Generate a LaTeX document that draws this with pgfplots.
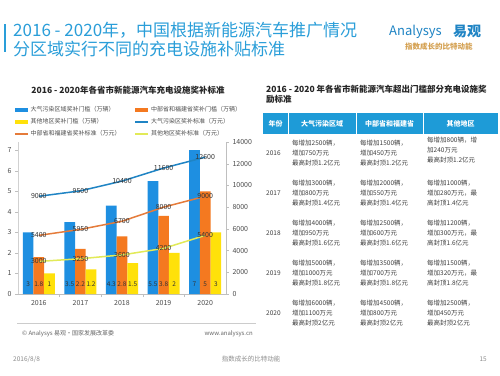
\documentclass[border=0pt]{standalone}
\usepackage{fontspec}
\setmainfont{Noto Sans CJK SC}
\usepackage{pgfplots}
\pgfplotsset{compat=1.18}
\definecolor{barblue}{RGB}{30,143,225}
\definecolor{barorange}{RGB}{244,121,32}
\definecolor{baryellow}{RGB}{255,225,10}
\definecolor{lineblue}{RGB}{31,132,196}
\definecolor{lineorange}{RGB}{229,123,58}
\definecolor{lineyellow}{RGB}{226,234,88}
\definecolor{titleblue}{RGB}{42,158,217}
\definecolor{hdrblue}{RGB}{30,155,215}
\definecolor{logogold}{RGB}{212,160,80}
\newcommand{\fs}[1]{\fontsize{#1}{#1}\selectfont}
\begin{document}
\begin{tikzpicture}
\useasboundingbox (0,0) rectangle (500pt,-375pt);
\fill[white] (0,0) rectangle (500pt,-375pt);
\begin{scope}[x=1pt,y=-1pt]
% main title
\fill[titleblue] (4,24) rectangle (6,52);
\node[anchor=west,inner sep=0,text=titleblue,font=\fs{17}] at (13,30) {2016 - 2020年，中国根据新能源汽车推广情况};
\node[anchor=west,inner sep=0,text=titleblue,font=\fs{17}] at (13,49) {分区域实行不同的充电设施补贴标准};
% logo
\node[anchor=west,inner sep=0,text=lineblue,font=\fs{13}\itshape] at (389,32) {Analysys};
\node[anchor=west,inner sep=0,text=lineblue,font=\fs{14}\bfseries] at (453,32) {易观};
\node[anchor=west,inner sep=0,text=logogold,font=\fs{7.5}\bfseries] at (405,47) {指数成长的比特动能};
% chart title
\node[inner sep=0,text=black!85,font=\fs{8.5}\bfseries] at (128,90) {2016 - 2020年各省市新能源汽车充电设施奖补标准};
% source
\draw[black!20,line width=0.6] (17,323) -- (256,323);
\node[anchor=west,inner sep=0,text=black!60,font=\fs{6}] at (22,334) {© Analysys 易观·国家发展改革委};
\node[anchor=east,inner sep=0,text=black!60,font=\fs{6}] at (253,334) {www.analysys.cn};
% footer
\node[anchor=west,inner sep=0,text=black!45,font=\fs{6.5}] at (13,359) {2016/8/8};
\node[inner sep=0,text=black!45,font=\fs{6.5}] at (251,359) {指数成长的比特动能};
\node[anchor=east,inner sep=0,text=black!45,font=\fs{6.5}] at (487,359) {15};
% table title
\node[anchor=north west,inner sep=0,align=left,text=black!85,font=\fontsize{8.5}{10}\selectfont\bfseries] at (266,85) {2016 - 2020 年各省市新能源汽车超出门槛部分充电设施奖\\励标准};
% table header
\fill[hdrblue] (263,113) rectangle (498,134);
\foreach \xx in {288,356,423} \draw[white,line width=1] (\xx,113) -- (\xx,134);
\begin{scope}[every node/.style={inner sep=0,text=white,font=\fs{7}\bfseries}]
\node at (275.5,123.5) {年份};
\node at (322,123.5) {大气污染区域};
\node at (389.5,123.5) {中部省和福建省};
\node at (460.5,123.5) {其他地区};
\end{scope}
% table body
\begin{scope}[every node/.style={inner sep=0,anchor=west,align=left,text=black!75,font=\fontsize{6.5}{10}\selectfont}]
\node at (266,153) {2016};
\node at (266,193) {2017};
\node at (266,233) {2018};
\node at (266,273) {2019};
\node at (266,313) {2020};
\node at (292,153) {每增加2500辆，\\增加750万元\\最高封顶1.2亿元};
\node at (292,193) {每增加3000辆，\\增加800万元\\最高封顶1.4亿元};
\node at (292,233) {每增加4000辆，\\增加950万元\\最高封顶1.6亿元};
\node at (292,273) {每增加5000辆，\\增加1000万元\\最高封顶1.8亿元};
\node at (292,313) {每增加6000辆，\\增加1100万元\\最高封顶2亿元};
\node at (360,153) {每增加1500辆，\\增加450万元\\最高封顶1.2亿元};
\node at (360,193) {每增加2000辆，\\增加550万元\\最高封顶1.4亿元};
\node at (360,233) {每增加2500辆，\\增加600万元\\最高封顶1.6亿元};
\node at (360,273) {每增加3500辆，\\增加700万元\\最高封顶1.8亿元};
\node at (360,313) {每增加4500辆，\\增加800万元\\最高封顶2亿元};
\node at (427,150) {每增加800辆，增\\加240万元\\最高封顶1.2亿元};
\node at (427,193) {每增加1000辆，\\增加280万元，最\\高封顶1.4亿元};
\node at (427,233) {每增加1200辆，\\增加300万元，最\\高封顶1.6亿元};
\node at (427,273) {每增加1500辆，\\增加320万元，最\\高封顶1.8亿元};
\node at (427,313) {每增加2500辆，\\增加450万元\\最高封顶2亿元};
\end{scope}
\end{scope}

% bar axis (left)
\begin{axis}[
  at={(18pt,-294pt)}, anchor=south west,
  scale only axis, width=208pt, height=152pt,
  xmin=-0.5, xmax=4.5, ymin=0, ymax=7.4,
  xtick={0,1,2,3,4}, xticklabels={2016,2017,2018,2019,2020},
  minor xtick={0.5,1.5,2.5,3.5},
  ytick={0,1,...,7},
  axis x line*=bottom, axis y line*=left,
  x axis line style={draw=black!25,-}, y axis line style={draw=black!18,-},
  tick align=outside, major tick length=3pt, minor tick length=3pt,
  xtick style={draw=none}, minor x tick style={draw=black!25},
  ytick style={draw=black!25},
  tick label style={font=\fs{7}, text=black!70},
  /pgf/number format/assume math mode=true,
  legend columns=2,
  legend style={at={(-0.034,1.263)}, anchor=north west, draw=none, fill=none,
    font=\fs{6}, text=black!70, row sep=1.6pt,
    /tikz/every even column/.append style={column sep=2pt}},
  legend cell align=left,
]
\addplot[ybar, bar width=0.257, bar shift=-0.257, fill=barblue, draw=none,
  legend image code/.code={\fill[barblue] (0pt,-2pt) rectangle (13pt,2pt);}]
  coordinates {(0,3) (1,3.5) (2,4.3) (3,5.5) (4,7)};
\addlegendentry{\makebox[100pt][l]{大气污染区域奖补门槛（万辆）}}
\addplot[ybar, bar width=0.257, bar shift=0, fill=barorange, draw=none,
  legend image code/.code={\fill[barorange] (0pt,-2pt) rectangle (13pt,2pt);}]
  coordinates {(0,1.8) (1,2.2) (2,2.8) (3,3.8) (4,5)};
\addlegendentry{中部省和福建省奖补门槛（万辆）}
\addplot[ybar, bar width=0.257, bar shift=0.257, fill=baryellow, draw=none,
  legend image code/.code={\fill[baryellow] (0pt,-2pt) rectangle (13pt,2pt);}]
  coordinates {(0,1) (1,1.2) (2,1.5) (3,2) (4,3)};
\addlegendentry{\makebox[100pt][l]{其他地区奖补门槛（万辆）}}
\addlegendimage{legend image code/.code={\draw[lineblue,line width=1.5pt] (0pt,0pt) -- (13pt,0pt);}}
\addlegendentry{大气污染区奖补标准（万元）}
\addlegendimage{legend image code/.code={\draw[lineorange,line width=1.5pt] (0pt,0pt) -- (13pt,0pt);}}
\addlegendentry{\makebox[100pt][l]{中部省和福建省奖补标准（万元）}}
\addlegendimage{legend image code/.code={\draw[lineyellow,line width=1.5pt] (0pt,0pt) -- (13pt,0pt);}}
\addlegendentry{其他地区奖补标准（万元）}
% bar value labels
\addplot[draw=none, forget plot, nodes near coords, point meta=explicit symbolic,
  every node near coord/.style={anchor=center, inner sep=0, font=\fs{6.5}, text=black!80}]
  coordinates {(-0.257,0.49)[3] (0.743,0.49)[3.5] (1.743,0.49)[4.3] (2.743,0.49)[5.5] (3.743,0.49)[7]};
\addplot[draw=none, forget plot, nodes near coords, point meta=explicit symbolic,
  every node near coord/.style={anchor=center, inner sep=0, font=\fs{6.5}, text=black!80}]
  coordinates {(0,0.49)[1.8] (1,0.49)[2.2] (2,0.49)[2.8] (3,0.49)[3.8] (4,0.49)[5]};
\addplot[draw=none, forget plot, nodes near coords, point meta=explicit symbolic,
  every node near coord/.style={anchor=center, inner sep=0, font=\fs{6.5}, text=black!80}]
  coordinates {(0.257,0.49)[1] (1.257,0.49)[1.2] (2.257,0.49)[1.5] (3.257,0.49)[2] (4.257,0.49)[3]};
\end{axis}

% line axis (right)
\begin{axis}[
  at={(18pt,-294pt)}, anchor=south west,
  scale only axis, width=208pt, height=152pt,
  xmin=-0.5, xmax=4.5, ymin=0, ymax=14000,
  axis x line=none, axis y line*=right,
  y axis line style={draw=black!25,-},
  ytick={0,2000,...,14000},
  tick align=outside, major tick length=3pt,
  ytick style={draw=black!25},
  scaled y ticks=false,
  yticklabel style={font=\fs{7}, text=black!70, anchor=west, /pgf/number format/set thousands separator={}},
  /pgf/number format/assume math mode=true,
]
\addplot[lineblue, line width=1.5pt, nodes near coords, point meta=explicit symbolic,
  every node near coord/.style={anchor=center, inner sep=0, font=\fs{7}, text=black!80}]
  coordinates {(0,9000)[9000] (1,9500)[9500] (2,10400)[10400] (3,11600)[11600] (4,12600)[12600]};
\addplot[lineorange, line width=1.5pt, nodes near coords, point meta=explicit symbolic,
  every node near coord/.style={anchor=center, inner sep=0, font=\fs{7}, text=black!80}]
  coordinates {(0,5400)[5400] (1,5950)[5950] (2,6700)[6700] (3,8000)[8000] (4,9000)[9000]};
\addplot[lineyellow, line width=1.5pt, nodes near coords, point meta=explicit symbolic,
  every node near coord/.style={anchor=center, inner sep=0, font=\fs{7}, text=black!80}]
  coordinates {(0,3000)[3000] (1,3250)[3250] (2,3600)[3600] (3,4200)[4200] (4,5400)[5400]};
\end{axis}
\end{tikzpicture}
\end{document}
